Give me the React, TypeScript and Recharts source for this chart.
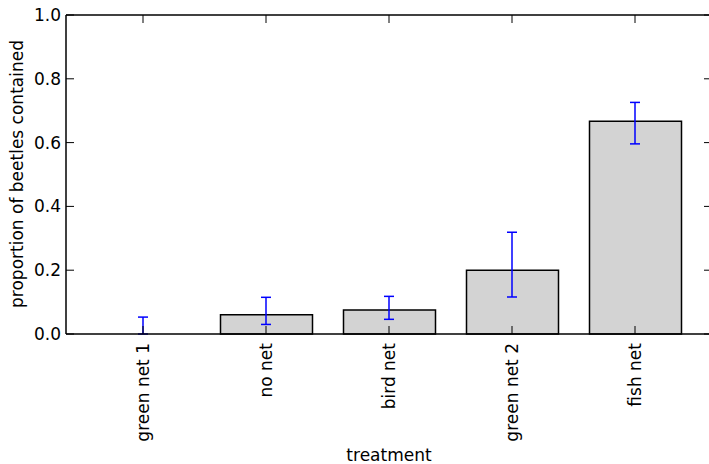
import React from 'react';
import { ComposedChart, Bar, Line, XAxis, YAxis, ErrorBar } from 'recharts';

const categories = ['green net 1', 'no net', 'bird net', 'green net 2', 'fish net'];
const proportions = [0, 0.06, 0.075, 0.2, 0.667];
const errLow = [0, 0.03, 0.029, 0.084, 0.071];
const errHigh = [0.053, 0.055, 0.043, 0.119, 0.059];
const yTicks = [0, 0.2, 0.4, 0.6, 0.8, 1.0];

const data = categories.map((name, i) => ({
  name,
  value: proportions[i],
  err: [errLow[i], errHigh[i]],
}));

const FONT = 'DejaVu Sans, sans-serif';
const FS = 17;
const TICK_LEN = 8;

const BottomTick = (props: any) => {
  const { x, y, payload } = props;
  return (
    <g>
      <line x1={x} y1={y} x2={x} y2={y - TICK_LEN} stroke="#000" strokeWidth={1} />
      <text
        x={x}
        y={y + 9}
        transform={`rotate(-90, ${x}, ${y + 9})`}
        textAnchor="end"
        dy="0.35em"
        fontFamily={FONT}
        fontSize={FS}
        fill="#000"
      >
        {payload.value}
      </text>
    </g>
  );
};

const TopTick = (props: any) => {
  const { x, y } = props;
  return <line x1={x} y1={y} x2={x} y2={y + TICK_LEN} stroke="#000" strokeWidth={1} />;
};

const LeftTick = (props: any) => {
  const { x, y, payload } = props;
  return (
    <g>
      <line x1={x} y1={y} x2={x + TICK_LEN} y2={y} stroke="#000" strokeWidth={1} />
      <text x={x - 5} y={y} dy="0.35em" textAnchor="end" fontFamily={FONT} fontSize={FS} fill="#000">
        {Number(payload.value).toFixed(1)}
      </text>
    </g>
  );
};

const RightTick = (props: any) => {
  const { x, y } = props;
  return <line x1={x} y1={y} x2={x - TICK_LEN} y2={y} stroke="#000" strokeWidth={1} />;
};

export default function App() {
  return (
    <div style={{ position: 'absolute', left: 0, top: 0, width: 709, height: 464, overflow: 'hidden', background: '#fff' }}>
      <ComposedChart width={720} height={464} data={data} margin={{ top: 14, right: 0, bottom: 0, left: 0 }}>
        <XAxis
          xAxisId="bottom"
          dataKey="name"
          orientation="bottom"
          height={130}
          padding={{ left: 15.5, right: 15.5 }}
          tickSize={0}
          tickMargin={0}
          tickLine={false}
          axisLine={{ stroke: '#000', strokeWidth: 1.5 }}
          tick={<BottomTick />}
          interval={0}
          label={{
            content: () => (
              <text x={389} y={455} dy="0.35em" textAnchor="middle" fontFamily={FONT} fontSize={FS} fill="#000">
                treatment
              </text>
            ),
          }}
        />
        <XAxis
          xAxisId="top"
          dataKey="name"
          orientation="top"
          height={1}
          padding={{ left: 15.5, right: 15.5 }}
          tickSize={0}
          tickMargin={0}
          tickLine={false}
          axisLine={{ stroke: '#000', strokeWidth: 1.5 }}
          tick={<TopTick />}
          interval={0}
        />
        <YAxis
          yAxisId="left"
          orientation="left"
          width={66}
          domain={[0, 1]}
          ticks={yTicks}
          tickSize={0}
          tickMargin={0}
          tickLine={false}
          axisLine={{ stroke: '#000', strokeWidth: 1.5 }}
          tick={<LeftTick />}
          label={{
            content: () => (
              <text
                x={17}
                y={174}
                dy="0.35em"
                transform="rotate(-90, 17, 174)"
                textAnchor="middle"
                fontFamily={FONT}
                fontSize={FS}
                fill="#000"
              >
                proportion of beetles contained
              </text>
            ),
          }}
        />
        <YAxis
          yAxisId="right"
          orientation="right"
          width={8}
          domain={[0, 1]}
          ticks={yTicks}
          tickSize={0}
          tickMargin={0}
          tickLine={false}
          axisLine={{ stroke: '#000', strokeWidth: 1.5 }}
          tick={<RightTick />}
        />
        <Bar
          xAxisId="bottom"
          yAxisId="left"
          dataKey="value"
          barSize={92}
          fill="#d3d3d3"
          stroke="#000"
          strokeWidth={1.5}
          isAnimationActive={false}
        />
        <Line
          xAxisId="top"
          yAxisId="right"
          dataKey="value"
          stroke="none"
          dot={false}
          activeDot={false}
          isAnimationActive={false}
        >
          <ErrorBar dataKey="err" direction="y" width={5} stroke="#0000ff" strokeWidth={1.5} isAnimationActive={false} />
        </Line>
      </ComposedChart>
    </div>
  );
}
